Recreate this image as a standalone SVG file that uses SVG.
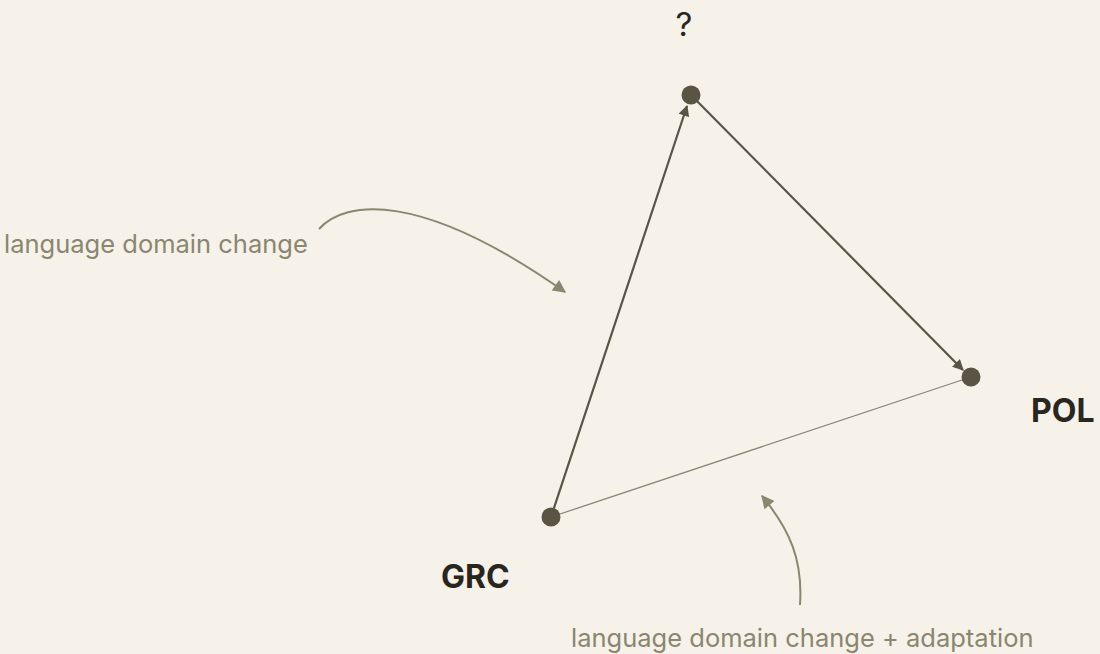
<svg xmlns="http://www.w3.org/2000/svg" width="1100" height="654" viewBox="0 0 1100 654">
  <style>
    .node { fill: #5a5444; }
    .edge { stroke: #5a5444; stroke-width: 2.2; fill: none; }
    .edge-thin { stroke: #8a8670; stroke-width: 1.3; fill: none; }
    .note-line { stroke: #8a8670; stroke-width: 2; fill: none; }
    .label { font-family: Inter, "Liberation Sans", sans-serif; fill: #29261e; }
    .bold { font-weight: 700; font-size: 32px; }
    .note { font-family: Inter, "Liberation Sans", sans-serif; font-size: 25.5px; fill: #8a8670; }
  </style>
  <defs>
    <marker id="arrowDark" viewBox="0 0 10 10" refX="9" refY="5" markerWidth="12" markerHeight="11" markerUnits="userSpaceOnUse" orient="auto">
      <path d="M0,0 L10,5 L0,10 z" fill="#5a5444"/>
    </marker>
    <marker id="arrowNote" viewBox="0 0 10 10" refX="9" refY="5" markerWidth="15" markerHeight="13" markerUnits="userSpaceOnUse" orient="auto">
      <path d="M0,0 L10,5 L0,10 z" fill="#8a8670"/>
    </marker>
  </defs>
  <rect width="1100" height="654" fill="#f6f2ea"/>

  <g id="connectors">
    <line class="edge-thin" x1="551" y1="517" x2="971" y2="377"/>
    <path class="edge" d="M551,517 L687,106" marker-end="url(#arrowDark)"/>
    <path class="edge" d="M691,95 L963,370" marker-end="url(#arrowDark)"/>
    <path class="note-line" d="M319,229 C345,200 420,190 565,292" marker-end="url(#arrowNote)"/>
    <path class="note-line" d="M800,605 C803,560 790,530 762,496" marker-end="url(#arrowNote)"/>
  </g>

  <g id="node-unknown">
    <circle class="node" cx="691" cy="95" r="9.5"/>
    <text class="label" x="684" y="36" font-size="33" text-anchor="middle">?</text>
  </g>
  <g id="node-pol">
    <circle class="node" cx="971" cy="377" r="9.5"/>
    <text class="label bold" x="1031" y="422">POL</text>
  </g>
  <g id="node-grc">
    <circle class="node" cx="551" cy="517" r="9.5"/>
    <text class="label bold" x="441" y="588">GRC</text>
  </g>

  <g id="annotations">
    <text class="note" x="4" y="253">language domain change</text>
    <text class="note" x="571" y="647">language domain change + adaptation</text>
  </g>
</svg>
